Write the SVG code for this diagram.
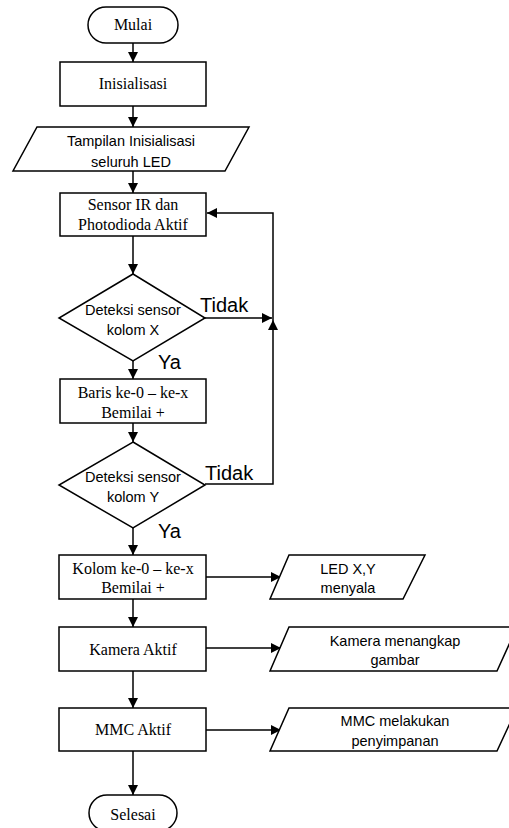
<svg xmlns="http://www.w3.org/2000/svg" width="509" height="828" viewBox="0 0 509 828">
<style>
.s{fill:#fff;stroke:#000;stroke-width:1.5}
.c{fill:none;stroke:#000;stroke-width:1.5}
.t{font-family:"Liberation Serif",serif;font-size:16px;text-anchor:middle;fill:#000}
.a{font-family:"Liberation Sans",sans-serif;font-size:14.5px;text-anchor:middle;fill:#000}
.l{font-family:"Liberation Sans",sans-serif;font-size:20px;fill:#000}
</style>
<defs>
<marker id="ah" viewBox="0 0 10 10" refX="10" refY="5" markerWidth="10" markerHeight="10" markerUnits="userSpaceOnUse" orient="auto">
<path d="M0,0 L10,5 L0,10 z" fill="#000"/>
</marker>
</defs>
<rect width="509" height="828" fill="#fff"/>
<g id="connectors">
<line class="c" x1="133" y1="43" x2="133" y2="62" marker-end="url(#ah)"/>
<line class="c" x1="133" y1="106" x2="133" y2="127" marker-end="url(#ah)"/>
<line class="c" x1="133" y1="171" x2="133" y2="193" marker-end="url(#ah)"/>
<line class="c" x1="133" y1="236" x2="133" y2="274" marker-end="url(#ah)"/>
<line class="c" x1="205" y1="318" x2="272" y2="318" marker-end="url(#ah)"/>
<line class="c" x1="133" y1="361" x2="133" y2="379" marker-end="url(#ah)"/>
<line class="c" x1="133" y1="423" x2="133" y2="442" marker-end="url(#ah)"/>
<polyline class="c" points="205,484 273,484 273,320" marker-end="url(#ah)"/>
<polyline class="c" points="273,320 273,213 207,213" marker-end="url(#ah)"/>
<line class="c" x1="133" y1="528" x2="133" y2="555" marker-end="url(#ah)"/>
<line class="c" x1="206" y1="577" x2="281" y2="577" marker-end="url(#ah)"/>
<line class="c" x1="133" y1="599" x2="133" y2="627" marker-end="url(#ah)"/>
<line class="c" x1="206" y1="648" x2="281" y2="648" marker-end="url(#ah)"/>
<line class="c" x1="133" y1="671" x2="133" y2="708" marker-end="url(#ah)"/>
<line class="c" x1="206" y1="730" x2="281" y2="730" marker-end="url(#ah)"/>
<line class="c" x1="133" y1="751" x2="133" y2="795" marker-end="url(#ah)"/>
<text class="l" x="200" y="312">Tidak</text>
<text class="l" x="158" y="369">Ya</text>
<text class="l" x="205" y="480">Tidak</text>
<text class="l" x="158" y="538">Ya</text>
</g>
<g id="mulai">
<rect class="s" x="88" y="7" width="90" height="36" rx="18"/>
<text class="t" x="133" y="30">Mulai</text>
</g>
<g id="inisialisasi">
<rect class="s" x="60" y="62" width="146" height="44"/>
<text class="t" x="133" y="89">Inisialisasi</text>
</g>
<g id="tampilan">
<polygon class="s" points="37,127 249,127 225,171 13,171"/>
<text class="a" x="131" y="146">Tampilan Inisialisasi</text>
<text class="a" x="131" y="167">seluruh LED</text>
</g>
<g id="sensor">
<rect class="s" x="60" y="193" width="146" height="43"/>
<text class="t" x="133" y="210">Sensor IR dan</text>
<text class="t" x="133" y="230">Photodioda Aktif</text>
</g>
<g id="deteksiX">
<polygon class="s" points="133,274 205,318 133,361 59,318"/>
<text class="a" x="133" y="315">Deteksi sensor</text>
<text class="a" x="133" y="335">kolom X</text>
</g>
<g id="baris">
<rect class="s" x="60" y="379" width="146" height="44"/>
<text class="t" x="133" y="398">Baris ke-0 – ke-x</text>
<text class="t" x="133" y="418">Bemilai +</text>
</g>
<g id="deteksiY">
<polygon class="s" points="133,442 205,485 133,528 59,485"/>
<text class="a" x="133" y="482">Deteksi sensor</text>
<text class="a" x="133" y="502">kolom Y</text>
</g>
<g id="kolom">
<rect class="s" x="59" y="555" width="147" height="44"/>
<text class="t" x="133" y="574">Kolom ke-0 – ke-x</text>
<text class="t" x="133" y="593">Bemilai +</text>
</g>
<g id="led">
<polygon class="s" points="289,555 425,555 403,599 270,599"/>
<text class="a" x="348" y="574">LED X,Y</text>
<text class="a" x="348" y="593">menyala</text>
</g>
<g id="kamera">
<rect class="s" x="59" y="627" width="147" height="44"/>
<text class="t" x="133" y="655">Kamera Aktif</text>
</g>
<g id="kameraOut">
<polygon class="s" points="289,627 517,627 497,671 270,671"/>
<text class="a" x="395" y="646">Kamera menangkap</text>
<text class="a" x="395" y="665">gambar</text>
</g>
<g id="mmc">
<rect class="s" x="59" y="708" width="147" height="43"/>
<text class="t" x="133" y="735">MMC Aktif</text>
</g>
<g id="mmcOut">
<polygon class="s" points="289,708 517,708 497,751 270,751"/>
<text class="a" x="395" y="726">MMC melakukan</text>
<text class="a" x="395" y="746">penyimpanan</text>
</g>
<g id="selesai">
<rect class="s" x="89" y="795" width="88" height="36" rx="18"/>
<text class="t" x="133" y="820">Selesai</text>
</g>
</svg>
